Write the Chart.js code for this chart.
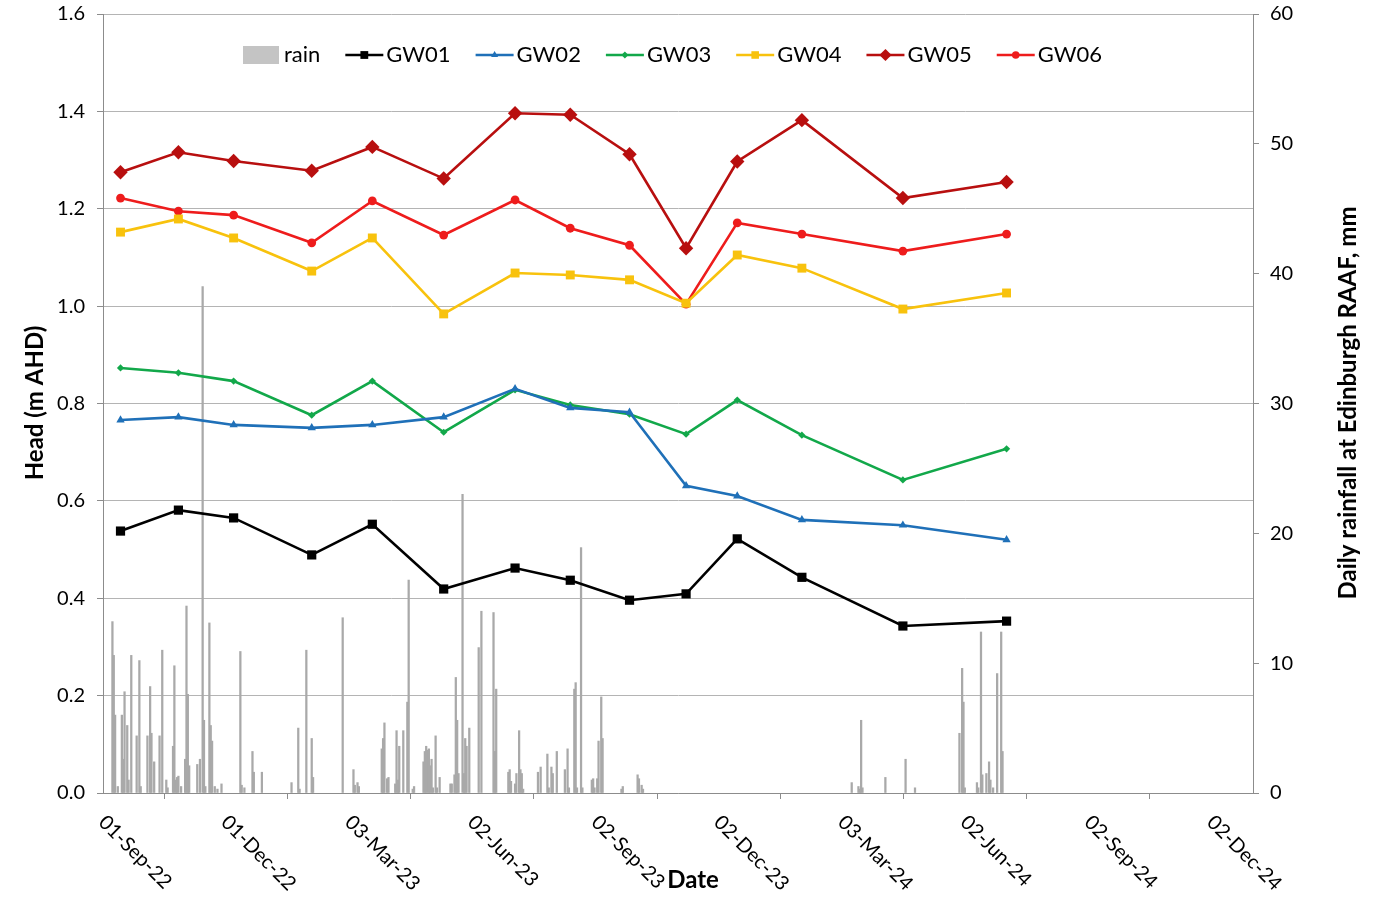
<!DOCTYPE html>
<html>
<head>
<meta charset="utf-8">
<script src="https://cdn.jsdelivr.net/npm/chart.js@4.4.1/dist/chart.umd.min.js"></script>
<style>
  html, body { margin: 0; padding: 0; background: #ffffff; }
  #wrap { width: 1379px; height: 897px; position: relative; }
</style>
</head>
<body>
<div id="wrap"><canvas id="c" width="1379" height="897"></canvas></div>
<script>
// Days are counted from 01-Sep-2022 (day 0)
const tickDays   = [0, 91, 183, 274, 366, 457, 549, 640, 732, 823];
const tickLabels = ['01-Sep-22','01-Dec-22','03-Mar-23','02-Jun-23','02-Sep-23','02-Dec-23','03-Mar-24','02-Jun-24','02-Sep-24','02-Dec-24'];

// Groundwater sampling dates (days since 01-Sep-22)
const sampleDays = [13, 56, 97, 155, 200, 253, 306, 347, 391, 433, 471, 519, 594, 671];

const gw01 = [0.538, 0.581, 0.565, 0.489, 0.552, 0.419, 0.462, 0.437, 0.396, 0.409, 0.522, 0.443, 0.343, 0.353];
const gw02 = [0.766, 0.772, 0.756, 0.750, 0.756, 0.772, 0.830, 0.791, 0.782, 0.631, 0.610, 0.561, 0.550, 0.520];
const gw03 = [0.873, 0.863, 0.846, 0.776, 0.846, 0.741, 0.828, 0.797, 0.778, 0.737, 0.807, 0.735, 0.643, 0.707];
const gw04 = [1.152, 1.179, 1.140, 1.072, 1.140, 0.984, 1.068, 1.064, 1.054, 1.006, 1.105, 1.078, 0.994, 1.027];
const gw05 = [1.275, 1.316, 1.298, 1.278, 1.327, 1.262, 1.396, 1.393, 1.312, 1.119, 1.297, 1.382, 1.222, 1.255];
const gw06 = [1.222, 1.195, 1.187, 1.130, 1.216, 1.146, 1.218, 1.160, 1.125, 1.004, 1.171, 1.148, 1.113, 1.148];

// Daily rainfall (mm) at Edinburgh RAAF, days since 01-Sep-22
const rainDays = [7,8,9,11,14,15,16,18,19,21,25,27,28,33,35,36,38,42,44,47,48,52,53,54,55,56,58,61,62,63,64,70,72,74,75,76,79,80,81,83,85,88,
  102,103,105,111,112,118,140,145,146,151,155,156,178,186,187,189,190,
  207,208,209,211,212,217,218,219,220,223,226,227,230,231,238,239,240,241,242,243,244,245,247,248,250,258,259,261,262,263,264,267,268,269,270,272,279,281,
  290,291,292,301,302,303,306,307,309,310,311,312,323,325,330,331,333,334,337,343,345,346,350,351,352,355,356,363,364,365,367,368,370,371,385,386,397,398,400,401,
  556,561,562,563,564,581,596,603,636,638,639,640,649,650,652,653,656,658,659,661,664,667,668];
const rainMm = [13.2,10.6,6.0,0.5,6.0,2.6,7.8,5.2,1.0,10.6,4.4,10.2,0.5,4.4,8.2,4.6,2.4,4.4,11.0,1.0,0.4,3.6,9.8,1.0,1.2,1.3,0.5,2.6,14.4,7.6,2.1,2.2,2.6,39.0,5.6,0.5,13.1,5.2,4.0,0.5,0.3,0.7,
  10.9,0.6,0.4,3.2,1.6,1.6,0.8,5.0,0.3,11.0,4.2,1.2,13.5,1.8,0.6,0.8,0.5,
  3.4,4.2,5.4,1.1,1.2,0.7,4.8,1.0,3.6,4.8,7.0,16.4,0.3,0.5,2.4,3.2,3.6,3.3,3.4,2.1,2.6,0.4,4.4,0.4,1.2,0.7,0.7,1.4,8.9,5.6,1.5,23.0,1.5,4.2,3.6,5.0,11.2,14.0,
  13.9,3.2,8.0,1.6,1.8,0.9,0.7,1.5,4.8,1.8,1.5,0.3,1.6,2.0,3.0,0.4,2.0,1.5,3.2,1.8,3.4,0.4,8.0,8.5,0.4,18.9,0.4,1.0,1.1,0.4,1.1,4.0,7.4,4.2,0.3,0.5,1.4,1.1,0.6,0.3,
  0.8,0.5,0.3,5.6,0.4,1.2,2.6,0.4,4.6,9.6,7.0,0.4,0.8,0.4,12.4,1.4,1.5,2.4,1.0,0.4,9.2,12.4,3.2];

const seriesNames  = ['GW01','GW02','GW03','GW04','GW05','GW06'];
const seriesValues = [gw01, gw02, gw03, gw04, gw05, gw06];
const seriesColors = ['#000000', '#1f70b8', '#12a84a', '#f8c20d', '#b80f0f', '#ee1c1c'];
const seriesMarkers = ['rect', 'triangle', 'rectRot', 'rect', 'rectRot', 'circle'];
const seriesRadius  = [6.5, 4.8, 3.6, 6.3, 7.2, 4.4];

const FONT = 'Lato, "Open Sans", "Liberation Sans", sans-serif';
const AXIS = '#8c8c8c';

const lineSets = seriesNames.map((name, i) => ({
  type: 'line',
  label: name,
  yAxisID: 'y',
  data: sampleDays.map((d, k) => ({ x: d, y: seriesValues[i][k] })),
  borderColor: seriesColors[i],
  backgroundColor: seriesColors[i],
  borderWidth: 2.6,
  pointStyle: seriesMarkers[i],
  pointRadius: seriesRadius[i],
  pointBorderWidth: 0,
  pointBackgroundColor: seriesColors[i],
  tension: 0,
  order: 1
}));

const rainSet = {
  type: 'bar',
  label: 'rain',
  yAxisID: 'y1',
  data: rainDays.map((d, k) => ({ x: d, y: rainMm[k] })),
  backgroundColor: '#a9a9a9',
  borderWidth: 0,
  barThickness: 1.6,
  order: 100
};

function noPad(scale) {
  scale.paddingTop = 0;
  scale.paddingBottom = 0;
  scale.paddingLeft = 0;
  scale.paddingRight = 0;
}

const overlay = {
  id: 'overlay',
  afterDraw(chart) {
    const ctx = chart.ctx;
    const xs = chart.scales.x;
    const area = chart.chartArea;
    ctx.save();
    // rotated x tick labels (down-right)
    ctx.fillStyle = '#000';
    ctx.font = '20px ' + FONT;
    ctx.textAlign = 'left';
    ctx.textBaseline = 'middle';
    tickDays.forEach((d, i) => {
      const px = xs.getPixelForValue(d);
      ctx.save();
      ctx.translate(px - 1, area.bottom + 26);
      ctx.rotate(Math.PI / 4);
      ctx.fillText(tickLabels[i], 0, 0);
      ctx.restore();
    });
    // axis titles
    ctx.font = 'bold 24px ' + FONT;
    ctx.textAlign = 'center';
    ctx.fillText('Date', 693, 880);
    ctx.save();
    ctx.translate(35, 403);
    ctx.rotate(-Math.PI / 2);
    ctx.fillText('Head (m AHD)', 0, 0);
    ctx.restore();
    ctx.save();
    ctx.translate(1348, 403);
    ctx.rotate(-Math.PI / 2);
    ctx.fillText('Daily rainfall at Edinburgh RAAF, mm', 0, 0);
    ctx.restore();

    // legend
    ctx.font = '22px ' + FONT;
    ctx.textAlign = 'left';
    const ly = 55;
    let x = 243;
    ctx.fillStyle = '#c4c4c4';
    ctx.fillRect(x, ly - 9, 36, 18);
    ctx.fillStyle = '#000';
    ctx.fillText('rain', x + 41, ly);
    x = x + 41 + ctx.measureText('rain').width + 25;
    seriesNames.forEach((name, i) => {
      ctx.strokeStyle = seriesColors[i];
      ctx.lineWidth = 2.6;
      ctx.beginPath();
      ctx.moveTo(x, ly);
      ctx.lineTo(x + 38, ly);
      ctx.stroke();
      ctx.fillStyle = seriesColors[i];
      Chart.helpers.drawPoint(ctx, {
        pointStyle: seriesMarkers[i],
        radius: Math.max(3.5, seriesRadius[i] * 0.85),
        rotation: 0,
        borderWidth: 0
      }, x + 19, ly);
      ctx.fillStyle = '#000';
      ctx.fillText(name, x + 41, ly);
      x = x + 41 + ctx.measureText(name).width + 25;
    });
    ctx.restore();
  }
};

new Chart(document.getElementById('c'), {
  type: 'line',
  data: { datasets: [rainSet, ...lineSets] },
  options: {
    responsive: false,
    animation: false,
    events: [],
    layout: { padding: { top: 14, left: 0, right: 0, bottom: 0 } },
    plugins: { legend: { display: false }, tooltip: { enabled: false }, title: { display: false } },
    scales: {
      x: {
        type: 'linear',
        min: 0,
        max: 854,
        offset: false,
        afterBuildTicks(scale) { scale.ticks = tickDays.map(v => ({ value: v })); },
        afterFit(scale) { scale.height = 104; noPad(scale); },
        ticks: { display: false },
        grid: { display: true, drawOnChartArea: false, drawTicks: true, tickLength: 6, color: AXIS, lineWidth: 1 },
        border: { color: AXIS, width: 1 }
      },
      y: {
        position: 'left',
        min: 0,
        max: 1.6,
        afterFit(scale) { scale.width = 103; noPad(scale); },
        ticks: {
          stepSize: 0.2,
          padding: 12,
          color: '#000',
          font: { family: FONT, size: 20 },
          callback: v => v.toFixed(1)
        },
        grid: { color: '#b4b4b4', lineWidth: 1, tickLength: 6, tickColor: AXIS },
        border: { color: AXIS, width: 1 }
      },
      y1: {
        position: 'right',
        min: 0,
        max: 60,
        afterFit(scale) { scale.width = 126; noPad(scale); },
        ticks: {
          stepSize: 10,
          padding: 11,
          color: '#000',
          font: { family: FONT, size: 20 }
        },
        grid: { drawOnChartArea: false, tickLength: 6, color: AXIS },
        border: { color: AXIS, width: 1 }
      }
    }
  },
  plugins: [overlay]
});
</script>
</body>
</html>
